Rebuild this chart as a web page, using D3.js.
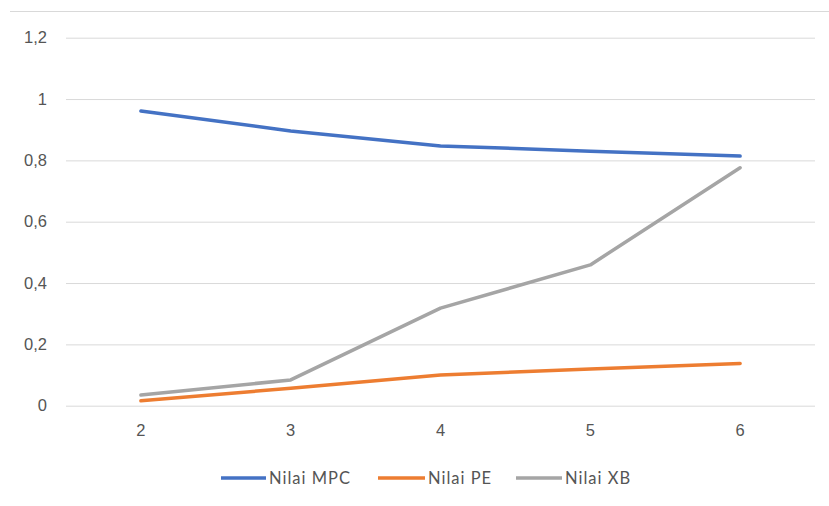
<!DOCTYPE html>
<html>
<head>
<meta charset="utf-8">
<script src="https://cdn.jsdelivr.net/npm/d3@7"></script>
<style>
  html, body { margin: 0; padding: 0; background: #fff; }
  svg { display: block; font-family: Lato, "Open Sans", "Liberation Sans", sans-serif; }
</style>
</head>
<body>
<svg id="chart" width="829" height="506"></svg>
<script>
// Cluster counts on the x axis
const clusters = ["2", "3", "4", "5", "6"];
// Validity index values per cluster count
const mpc = [0.961, 0.896, 0.847, 0.830, 0.814];
const pe  = [0.016, 0.057, 0.100, 0.120, 0.138];
const xb  = [0.035, 0.084, 0.318, 0.459, 0.776];
const yTicks = [0, 0.2, 0.4, 0.6, 0.8, 1, 1.2];
const seriesNames = ["Nilai MPC", "Nilai PE", "Nilai XB"];
const seriesColors = ["#4472C4", "#ED7D31", "#A5A5A5"];

const series = [mpc, pe, xb].map((values, i) => ({
  name: seriesNames[i], color: seriesColors[i], values
}));

const svg = d3.select("#chart");
const plot = { left: 66, right: 815, top: 37.7, bottom: 405.7 };
const fontSize = "16.5px";
const textColor = "#555555";

const x = d3.scaleBand().domain(clusters).range([plot.left, plot.right]);
const y = d3.scaleLinear().domain([0, 1.2]).range([plot.bottom, plot.top]);
const fmt = d => String(d).replace(".", ",");

// chart border top edge
svg.append("line")
  .attr("x1", 10).attr("x2", 829).attr("y1", 11.5).attr("y2", 11.5)
  .attr("stroke", "#d9d9d9").attr("stroke-width", 1);

// horizontal gridlines and y labels
const yAxis = d3.axisLeft(y).tickValues(yTicks).tickFormat(fmt)
  .tickSize(-(plot.right - plot.left)).tickPadding(19);
const gy = svg.append("g").attr("transform", `translate(${plot.left},0)`).call(yAxis);
gy.select(".domain").remove();
gy.selectAll(".tick line").attr("stroke", "#d9d9d9").attr("stroke-width", 1);
gy.selectAll(".tick text").attr("fill", textColor).style("font-size", fontSize);

// x axis labels
const xAxis = d3.axisBottom(x).tickSize(0).tickPadding(19);
const gx = svg.append("g").attr("transform", `translate(0,${plot.bottom})`).call(xAxis);
gx.select(".domain").remove();
gx.selectAll(".tick text").attr("fill", textColor).style("font-size", fontSize);

// series lines
const line = d3.line()
  .x((d, i) => x(clusters[i]) + x.bandwidth() / 2)
  .y(d => y(d));

svg.append("g").selectAll("path")
  .data(series.slice().reverse())
  .join("path")
  .attr("d", d => line(d.values))
  .attr("fill", "none")
  .attr("stroke", d => d.color)
  .attr("stroke-width", 3.5)
  .attr("stroke-linejoin", "round")
  .attr("stroke-linecap", "round");

// legend
const legendItems = [
  { x: 221, w: 45 },
  { x: 378, w: 47 },
  { x: 516, w: 46 }
];
const lg = svg.append("g").attr("transform", "translate(0,478)");
series.forEach((s, i) => {
  const it = legendItems[i];
  lg.append("line")
    .attr("x1", it.x).attr("x2", it.x + it.w)
    .attr("y1", 0).attr("y2", 0)
    .attr("stroke", s.color).attr("stroke-width", 3.5);
  lg.append("text")
    .attr("x", it.x + it.w + 3).attr("y", 0).attr("dy", "0.35em")
    .attr("fill", textColor).style("font-size", fontSize)
    .style("letter-spacing", "1px")
    .text(s.name);
});
</script>
</body>
</html>
